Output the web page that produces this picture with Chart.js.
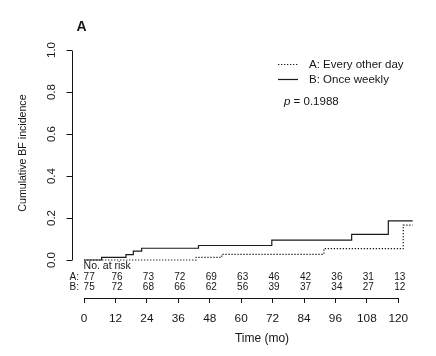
<!DOCTYPE html>
<html>
<head>
<meta charset="utf-8">
<script src="https://cdn.jsdelivr.net/npm/chart.js@4"></script>
<style>
  html, body { margin: 0; padding: 0; background: #ffffff; }
  #wrap { width: 436px; height: 356px; position: relative; }
</style>
</head>
<body>
<div id="wrap"><canvas id="c" width="436" height="356"></canvas></div>
<script>
// ---- data ----
const panelTitle = "A";
const seriesNames = ["A: Every other day", "B: Once weekly"];
// Group A (every other day) cumulative incidence, step curve
const timesA = [0, 42.8, 52.6, 91.6, 121.9, 125.5];
const cumA   = [0, 0.013, 0.027, 0.054, 0.166, 0.166];
// Group B (once weekly)
const timesB = [0, 6.7, 16.0, 18.8, 22.0, 43.7, 71.7, 102.2, 116.2, 125.5];
const cumB   = [0, 0.013, 0.026, 0.042, 0.056, 0.069, 0.095, 0.122, 0.186, 0.186];
// Axes
const xTicks = [0, 12, 24, 36, 48, 60, 72, 84, 96, 108, 120];
const yTicks = [0, 0.2, 0.4, 0.6, 0.8, 1.0];
const yTickLabels = ["0.0", "0.2", "0.4", "0.6", "0.8", "1.0"];
const xTitle = "Time (mo)";
const yTitle = "Cumulative BF incidence";
// Number at risk table
const riskHeader = "No. at risk";
const riskTimes = [0, 12, 24, 36, 48, 60, 72, 84, 96, 108, 120];
const riskA = [77, 76, 73, 72, 69, 63, 46, 42, 36, 31, 13];
const riskB = [75, 72, 68, 66, 62, 56, 39, 37, 34, 27, 12];
const pText = "0.1988";

const FONT = "'Liberation Sans', Arial, sans-serif";
const INK = "#161616";

const toPts = (xs, ys) => xs.map((x, i) => ({ x: x, y: ys[i] }));

const overlay = {
  id: 'overlay',
  afterDraw(chart) {
    const { ctx, chartArea, scales } = chart;
    const xs = scales.x, ys = scales.y;
    ctx.save();
    ctx.strokeStyle = INK;
    ctx.fillStyle = INK;
    ctx.lineWidth = 1;

    // y axis line between 0 and 1
    const ax = Math.round(chartArea.left) + 0.5;
    ctx.beginPath();
    ctx.moveTo(ax, Math.round(ys.getPixelForValue(0)) + 0.5);
    ctx.lineTo(ax, Math.round(ys.getPixelForValue(1)) + 0.5);
    ctx.stroke();

    // x axis line between first and last tick
    const ay = Math.round(chartArea.bottom) + 0.5;
    ctx.beginPath();
    ctx.moveTo(Math.round(xs.getPixelForValue(xTicks[0])) + 0.5, ay);
    ctx.lineTo(Math.round(xs.getPixelForValue(xTicks[xTicks.length - 1])) + 0.5, ay);
    ctx.stroke();

    // y tick labels (rotated like R)
    ctx.font = "11.5px " + FONT;
    ctx.textAlign = 'center';
    ctx.textBaseline = 'middle';
    yTicks.forEach((v, i) => {
      ctx.save();
      ctx.translate(chartArea.left - 19.8, ys.getPixelForValue(v));
      ctx.rotate(-Math.PI / 2);
      ctx.fillText(yTickLabels[i], 0, 0);
      ctx.restore();
    });

    // y title
    ctx.font = "10.6px " + FONT;
    ctx.save();
    ctx.translate(23, (ys.getPixelForValue(0) + ys.getPixelForValue(1)) / 2 - 2);
    ctx.rotate(-Math.PI / 2);
    ctx.fillText(yTitle, 0, 0);
    ctx.restore();

    // panel title
    ctx.font = "bold 14px " + FONT;
    ctx.textAlign = 'left';
    ctx.fillText(panelTitle, 76.5, 27);

    // x title
    ctx.font = "12px " + FONT;
    ctx.textAlign = 'center';
    ctx.fillText(xTitle, 262, 339);

    // number at risk
    ctx.font = "10.5px " + FONT;
    ctx.textAlign = 'left';
    ctx.fillText(riskHeader, xs.getPixelForValue(0) - 0.5, 266);
    ctx.font = "10px " + FONT;
    ctx.textAlign = 'right';
    ctx.fillText("A:", xs.getPixelForValue(0) - 5, 277.5);
    ctx.fillText("B:", xs.getPixelForValue(0) - 5, 287);
    riskTimes.forEach((t, i) => {
      const px = xs.getPixelForValue(t);
      ctx.textAlign = i === 0 ? 'left' : 'center';
      const dx = i === 0 ? -0.5 : 1.5;
      ctx.fillText(String(riskA[i]), px + dx, 277.5);
      ctx.fillText(String(riskB[i]), px + dx, 287);
    });

    // legend
    const dsA = chart.data.datasets[0], dsB = chart.data.datasets[1];
    ctx.lineWidth = dsA.borderWidth;
    ctx.setLineDash(dsA.borderDash);
    ctx.strokeStyle = dsA.borderColor;
    ctx.beginPath(); ctx.moveTo(278, 64.5); ctx.lineTo(298, 64.5); ctx.stroke();
    ctx.setLineDash([]);
    ctx.lineWidth = dsB.borderWidth;
    ctx.strokeStyle = dsB.borderColor;
    ctx.beginPath(); ctx.moveTo(278, 79.5); ctx.lineTo(298, 79.5); ctx.stroke();
    ctx.font = "11.5px " + FONT;
    ctx.textAlign = 'left';
    ctx.fillText(seriesNames[0], 309, 65);
    ctx.fillText(seriesNames[1], 309, 80);

    // p value
    ctx.font = "italic 11.5px " + FONT;
    ctx.fillText("p", 284, 101.5);
    const pw = ctx.measureText("p").width;
    ctx.font = "11.5px " + FONT;
    ctx.fillText(" = " + pText, 284 + pw, 101.5);

    ctx.restore();
  }
};

new Chart(document.getElementById('c'), {
  type: 'line',
  data: {
    datasets: [
      {
        label: seriesNames[0],
        data: toPts(timesA, cumA),
        stepped: 'before',
        borderColor: '#1a1a1a',
        borderWidth: 1.2,
        borderDash: [1.3, 1.7],
        pointRadius: 0,
        fill: false
      },
      {
        label: seriesNames[1],
        data: toPts(timesB, cumB),
        stepped: 'before',
        borderColor: '#1a1a1a',
        borderWidth: 1.2,
        borderDash: [],
        pointRadius: 0,
        fill: false
      }
    ]
  },
  options: {
    responsive: false,
    animation: false,
    devicePixelRatio: 1,
    layout: { padding: { top: 44, right: 16, left: 0, bottom: 0 } },
    plugins: { legend: { display: false }, title: { display: false }, tooltip: { enabled: false } },
    scales: {
      x: {
        type: 'linear',
        min: -4.8,
        max: 128.3,
        position: 'bottom',
        afterBuildTicks: s => { s.ticks = xTicks.map(v => ({ value: v })); },
        afterFit: s => { s.height = 58; },
        grid: { drawOnChartArea: false, drawTicks: true, tickLength: 5, color: INK, lineWidth: 1 },
        border: { display: false },
        ticks: { color: INK, font: { family: FONT, size: 11.8 }, padding: 9, maxRotation: 0, autoSkip: false }
      },
      y: {
        type: 'linear',
        min: -0.181,
        max: 1.029,
        position: 'left',
        afterBuildTicks: s => { s.ticks = yTicks.map(v => ({ value: v })); },
        afterFit: s => { s.width = 71.5; },
        grid: { drawOnChartArea: false, drawTicks: true, tickLength: 5, color: INK, lineWidth: 1 },
        border: { display: false },
        ticks: { display: false }
      }
    }
  },
  plugins: [overlay]
});
</script>
</body>
</html>
